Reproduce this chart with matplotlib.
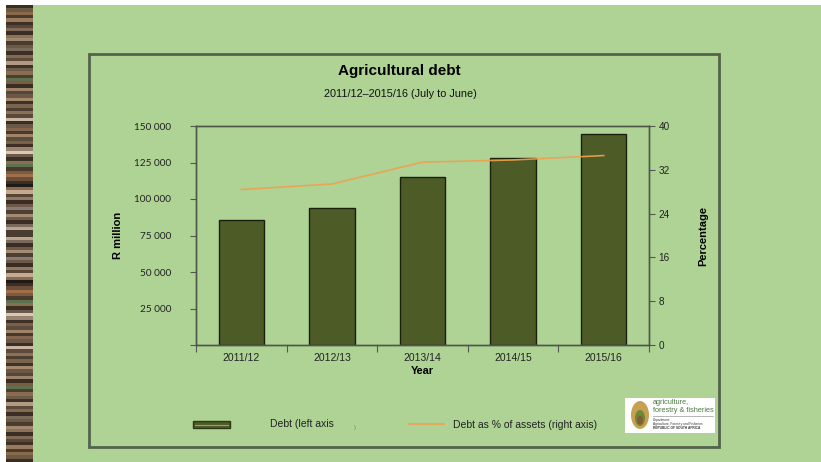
import matplotlib
matplotlib.use("Agg")
import matplotlib.pyplot as plt
from matplotlib.patches import Rectangle, Ellipse
import numpy as np

plt.rcParams['font.family'] = ['Liberation Sans', 'DejaVu Sans']

# data
years = ['2011/12', '2012/13', '2013/14', '2014/15', '2015/16']
debt = [85400, 93600, 115300, 128300, 144300]          # R million
debt_pct = [28.4, 29.4, 33.4, 33.8, 34.6]              # % of assets
left_ticks = [0, 25000, 50000, 75000, 100000, 125000, 150000]
right_ticks = [0, 8, 16, 24, 32, 40]

# wooden strip down the left edge
stripe_colors = ['#3a2e24', '#6b5a44', '#8a6a4c', '#4a3a2c', '#9a7a5c', '#3c3026',
                 '#5a4636', '#7e6a56', '#3a2e24', '#8c7058', '#a08870', '#4c3c2e',
                 '#6a5a48', '#7a6a5a', '#3a2e26', '#866a50', '#5c4a3a', '#b09a84',
                 '#3e3228', '#6e5c4a', '#8a6c50', '#4a4030', '#5e7050', '#7c5c40',
                 '#3a2e24', '#9c8268', '#54463a', '#6c5646', '#a4886c', '#3c3228',
                 '#7a6450', '#4e3e30', '#8e7058', '#5a4a3c', '#c8b4a0', '#3a2e24',
                 '#6a5848', '#846650', '#463a2e', '#a08266', '#5c4c3e', '#7a6048',
                 '#3e3026', '#9a8470', '#d8c8b8', '#6c5a4a', '#3a3024', '#86704e',
                 '#5e7052', '#4a3a2c', '#7c5c3e', '#a0704a', '#6a4e3a', '#3c2e24',
                 '#1e1a1a', '#8a6a50', '#c4aa90', '#5a4636', '#947a64', '#3a2e24',
                 '#6e5848', '#8a7a70', '#4c4034', '#a48c74', '#6c5a4c', '#3a2e24',
                 '#7a6a5c', '#b8a490', '#4a3c30']
stripe_colors = stripe_colors + stripe_colors[::-1]

W, H = 821, 462
fig = plt.figure(figsize=(W / 100, H / 100), dpi=100)
fig.patch.set_facecolor('#aed395')

# pixel-space overlay for the slide decoration
deco = fig.add_axes([0, 0, 1, 1], zorder=0)
deco.axis('off')
deco.add_patch(Rectangle((0, 0), W, 5, facecolor='white', edgecolor='none'))
strip = np.array([[matplotlib.colors.to_rgb(c)] for c in stripe_colors])
deco.imshow(strip, extent=[6, 33, H, 5], aspect='auto', interpolation='nearest')
deco.add_patch(Rectangle((0, 5), 6, H, facecolor='white', edgecolor='none'))
deco.set_xlim(0, W)
deco.set_ylim(H, 0)
deco.add_patch(Rectangle((89, 54), 630, 393, facecolor='none',
                         edgecolor='#55624c', linewidth=2))

deco.text(399, 71, 'Agricultural debt', ha='center', va='center',
          fontsize=11, fontweight='bold', color='black')
deco.text(400, 94, '2011/12\u20132015/16 (July to June)', ha='center', va='center',
          fontsize=7.8, color='#111111')

# legend row
deco.add_patch(Rectangle((193, 421), 37, 7, facecolor='#4d5b27', edgecolor='#2e3818', linewidth=1))
deco.plot([195, 228], [424.5, 424.5], color='#8aa860', linewidth=0.8)
deco.text(270, 424, 'Debt (left axis', ha='left', va='center', fontsize=7.5, color='#222222')
deco.text(354, 427, ')', ha='left', va='center', fontsize=4, color='#777777')
deco.plot([409, 444], [424, 424], color='#f0a050', linewidth=1.3, alpha=0.9)
deco.text(453, 425, 'Debt as % of assets (right axis)', ha='left', va='center',
          fontsize=7.5, color='#222222')

# departmental logo block
deco.add_patch(Rectangle((625, 398), 90, 35, facecolor='white', edgecolor='none'))
deco.add_patch(Ellipse((640, 415), 18, 28, facecolor='#c8a050', edgecolor='none'))
deco.add_patch(Ellipse((640, 418), 10, 16, facecolor='#6a8a3a', edgecolor='none'))
deco.add_patch(Ellipse((640, 420), 6, 9, facecolor='#8a5a30', edgecolor='none'))
deco.text(653, 403, 'agriculture,', ha='left', va='center', fontsize=5.3, color='#4a7a40')
deco.text(653, 411, 'forestry & fisheries', ha='left', va='center', fontsize=5.3, color='#4a7a40')
deco.plot([653, 713], [416, 416], color='#999999', linewidth=0.5)
deco.text(653, 420, 'Department:', ha='left', va='center', fontsize=2.3, color='#333333')
deco.text(653, 424, 'Agriculture, Forestry and Fisheries', ha='left', va='center',
          fontsize=2.3, color='#333333')
deco.text(653, 428, 'REPUBLIC OF SOUTH AFRICA', ha='left', va='center',
          fontsize=2.3, color='#333333', fontweight='bold')

# main chart
ax = fig.add_axes([196 / W, 117 / H, 453 / W, 219 / H], zorder=2)
ax.set_facecolor('none')
x = np.arange(len(years))
ax.bar(x, debt, width=0.5, color='#4d5b27', edgecolor='#1a1f0e', linewidth=1.0, zorder=2)
ax.set_xlim(-0.5, len(years) - 0.5)
ax.set_ylim(0, 150000)
ax.set_yticks(left_ticks)
ax.set_yticklabels(['' if v == 0 else '{:,}'.format(v).replace(',', ' ') for v in left_ticks],
                   family=['Lato', 'DejaVu Sans'], fontsize=7.2, color='#222222')
ax.tick_params(axis='y', direction='out', length=4, width=0.8, color='#555555', pad=14)
ax.set_xticks(x)
ax.set_xticklabels(years, fontsize=7.5, color='#222222')
ax.set_xticks(np.arange(-0.5, len(years)), minor=True)
ax.tick_params(axis='x', which='major', length=0, pad=6)
ax.tick_params(axis='x', which='minor', direction='out', length=5, width=0.8, color='#555555')
for s in ax.spines.values():
    s.set_color('#4e5848')
    s.set_linewidth(1.0)
ax.set_xlabel('Year', fontsize=7.8, fontweight='bold', labelpad=2)
ax.set_ylabel('R million', fontsize=8, fontweight='bold', labelpad=8)

ax2 = ax.twinx()
ax2.plot(x, debt_pct, color='#f0a050', linewidth=1.2, alpha=0.9, zorder=3)
ax2.set_ylim(0, 40)
ax2.set_yticks(right_ticks)
ax2.set_yticklabels([str(v) for v in right_ticks], fontsize=7.2, color='#222222')
ax2.tick_params(axis='y', direction='out', length=4, width=0.8, color='#555555', pad=3)
for s in ax2.spines.values():
    s.set_color('#4e5848')
    s.set_linewidth(1.0)
ax2.set_ylabel('Percentage', fontsize=8, fontweight='bold', labelpad=20)

fig.savefig('out.png', dpi=100, facecolor=fig.get_facecolor())
